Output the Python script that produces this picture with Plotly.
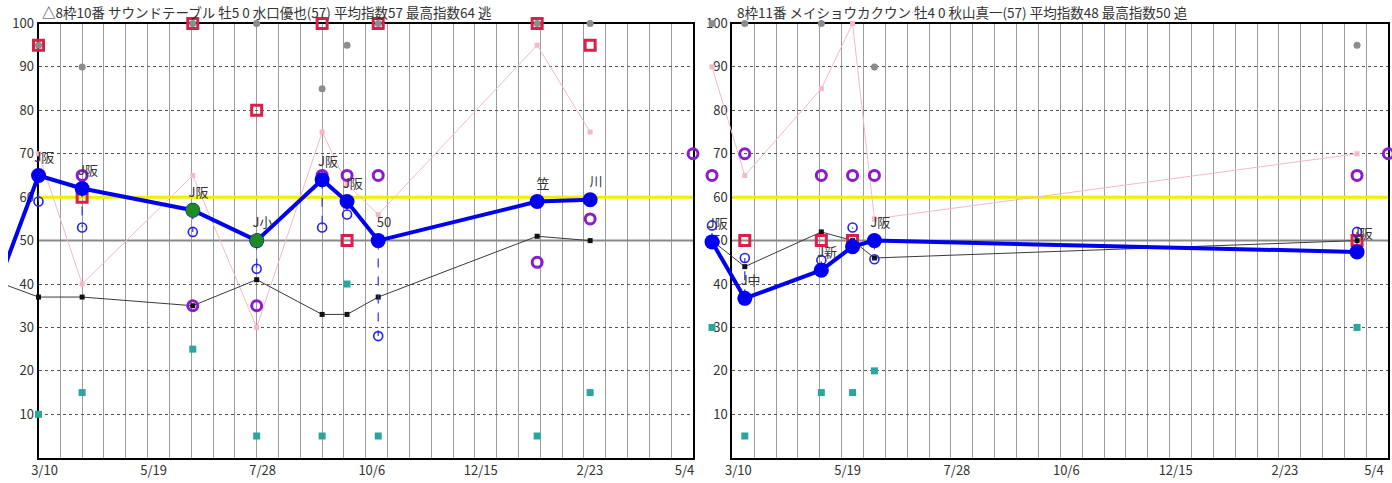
import pandas as pd
import plotly.graph_objects as go

# ---------------- data ----------------
TICK_DATES = ["2022-03-10", "2022-05-19", "2022-07-28", "2022-10-06",
              "2022-12-15", "2023-02-23", "2023-05-04"]
TICK_TEXT = ["3/10", "5/19", "7/28", "10/6", "12/15", "2/23", "5/4"]
Y_TICKS = list(range(10, 101, 10))
REF_LINE = 50
BASE_LINE = 60
CURRENT_DATE = "2023-05-04"

# left horse
L_TITLE = "△8枠10番 サウンドテーブル 牡5 0 水口優也(57) 平均指数57 最高指数64 逃"
L_DATES = ["2022-02-08", "2022-03-10", "2022-04-07", "2022-06-17", "2022-07-28",
           "2022-09-08", "2022-09-24", "2022-10-14", "2023-01-24", "2023-02-27"]
L_INDEX = [36, 65, 62, 57, 50, 64, 59, 50, 59, 59.4]
L_LABELS = ["", "J阪", "J阪", "J阪", "J小", "J阪", "J阪", "50", "笠", "川"]
L_GREEN = [None, None, None, 57, 50, None, None, None, None, None]
L_SUB = [None, 59, 53, 52, 43.5, 53, 56, 28, None, None]
L_BLACK = [41, 37, 37, 35, 41, 33, 33, 37, 51, 50]
L_PINK = [None, 70, 40, 65, 30, 75, 63, 56, 95, 75]
L_RED = [None, 95, 60, 100, 80, 100, 50, 100, 100, 95]
L_GRAY = [None, 95, 90, 100, 100, 85, 95, 100, 100, 100]
L_PURPLE = [None, None, 65, 35, 35, 65, 65, 65, 45, 55]
L_TEAL = [None, 10, 15, 25, 5, 5, 40, 5, 5, 15]
L_CURRENT = 70

# right horse
R_TITLE = "8枠11番 メイショウカクウン 牡4 0 秋山真一(57) 平均指数48 最高指数50 追"
R_DATES = ["2022-02-25", "2022-03-18", "2022-05-06", "2022-05-26", "2022-06-09", "2023-04-14"]
R_INDEX = [49.7, 36.7, 43.2, 48.6, 50, 47.4]
R_LABELS = ["J阪", "J中", "J新", "", "J阪", "J阪"]
R_GREEN = [None, None, None, None, None, None]
R_SUB = [53.5, 46, 45.5, 53, 45.7, 52]
R_BLACK = [50, 44, 52, 50, 46, 50]
R_PINK = [90, 65, 85, 100, 55, 70]
R_RED = [None, 50, 50, 50, None, 50]
R_GRAY = [100, 100, 100, None, 90, 95]
R_PURPLE = [65, 70, 65, 65, 65, 65]
R_TEAL = [30, 5, 15, 15, 20, 30]
R_CURRENT = 70

# ---------------- layout geometry (pixels in the 1392x483 page) ----------------
W, H = 1392, 483
Y_TOP, Y_BOT = 23.5, 457.7
START, END = pd.Timestamp(TICK_DATES[0]), pd.Timestamp(TICK_DATES[-1])
FONT = "Noto Sans CJK JP"
TXT = "#333333"
NBSP = "\u00a0"


def px(x):
    return x / W


def py(y):
    return 1 - y / H


panels = [
    dict(title=L_TITLE, dates=L_DATES, index=L_INDEX, labels=L_LABELS, green=L_GREEN,
         sub=L_SUB, black=L_BLACK, pink=L_PINK, red=L_RED, gray=L_GRAY,
         purple=L_PURPLE, teal=L_TEAL, current=L_CURRENT,
         x0=38.5, x1=693.0, dx0=8.0, title_x=40, last_pad=10,
         mx="x", my="y", dx="x2", dy="y3"),
    dict(title=R_TITLE, dates=R_DATES, index=R_INDEX, labels=R_LABELS, green=R_GREEN,
         sub=R_SUB, black=R_BLACK, pink=R_PINK, red=R_RED, gray=R_GRAY,
         purple=R_PURPLE, teal=R_TEAL, current=R_CURRENT,
         x0=732.3, x1=1388.3, dx0=700.0, title_x=735, last_pad=14,
         mx="x3", my="y2", dx="x4", dy="y4"),
]


def key(ax):
    return ("xaxis" if ax[0] == "x" else "yaxis") + ax[1:]


fig = go.Figure()
ydom = [py(Y_BOT), py(Y_TOP)]
total_days = (END - START).days

for p in panels:
    mx, my, dx, dy = p["mx"], p["my"], p["dx"], p["dy"]
    ppd = (p["x1"] - p["x0"]) / total_days
    extra = (p["x0"] - p["dx0"]) / ppd
    data_start = (START - pd.Timedelta(days=extra)).round("s").strftime("%Y-%m-%d %H:%M:%S")
    ticktext = TICK_TEXT[:-1] + [TICK_TEXT[-1] + NBSP * p["last_pad"]]

    fig.update_layout(**{
        key(mx): dict(domain=[px(p["x0"]), px(p["x1"])], anchor=my, type="date",
                      range=[TICK_DATES[0], TICK_DATES[-1]], tickmode="array",
                      tickvals=TICK_DATES, ticktext=ticktext, ticks="", ticklabelshift=6,
                      ticklabeloverflow="allow",
                      tickfont=dict(family=FONT, size=13, color=TXT), automargin=False,
                      showline=True, mirror=True, linecolor="black", linewidth=2,
                      showgrid=True, gridcolor="#9c9c9c", gridwidth=1,
                      minor=dict(dtick=14 * 86400000, tick0=TICK_DATES[0], showgrid=True,
                                 gridcolor="#9c9c9c", gridwidth=1, ticks=""),
                      zeroline=False),
        key(my): dict(domain=ydom, anchor=mx, range=[0, 100], tickmode="array",
                      tickvals=Y_TICKS, ticks="", showgrid=True, gridcolor="#555555",
                      griddash="dot", gridwidth=1, zeroline=False, automargin=False,
                      showline=True, mirror=True, linecolor="black", linewidth=2,
                      tickfont=dict(family=FONT, size=13, color=TXT)),
        key(dx): dict(domain=[px(p["dx0"]), px(p["x1"])], anchor=dy, type="date",
                      range=[data_start, TICK_DATES[-1]], visible=False, showgrid=False,
                      automargin=False),
        key(dy): dict(domain=ydom, anchor=dx, range=[0, 100], visible=False,
                      showgrid=False, zeroline=False, automargin=False),
    })

    # reference lines drawn on the grid subplot (below the data subplot)
    span = [TICK_DATES[0], TICK_DATES[-1]]
    fig.add_trace(go.Scatter(x=span, y=[REF_LINE] * 2, mode="lines", xaxis=mx, yaxis=my,
                             line=dict(color="#8a8a8a", width=2), showlegend=False,
                             hoverinfo="skip"))
    fig.add_trace(go.Scatter(x=span, y=[BASE_LINE] * 2, mode="lines", xaxis=mx, yaxis=my,
                             line=dict(color="#f2ee00", width=3), showlegend=False,
                             hoverinfo="skip"))

    d = p["dates"]
    common = dict(xaxis=dx, yaxis=dy, showlegend=False, cliponaxis=False, hoverinfo="x+y")

    fig.add_trace(go.Scatter(x=d, y=p["pink"], mode="lines+markers", connectgaps=True,
                             line=dict(color="#f4b9c6", width=1),
                             marker=dict(symbol="square", size=5, color="#f4b9c6"), **common))
    fig.add_trace(go.Scatter(x=d, y=p["black"], mode="lines+markers", connectgaps=True,
                             line=dict(color="#3a3a3a", width=1),
                             marker=dict(symbol="square", size=5, color="#111111"), **common))
    fig.add_trace(go.Scatter(x=d, y=p["teal"], mode="markers",
                             marker=dict(symbol="square", size=7, color="#2aa69c"), **common))
    fig.add_trace(go.Scatter(x=d, y=p["gray"], mode="markers",
                             marker=dict(symbol="circle", size=7, color="#8c8c8c"), **common))
    fig.add_trace(go.Scatter(x=d, y=p["red"], mode="markers",
                             marker=dict(symbol="square-open", size=10, color="#d8204a",
                                         line=dict(width=3, color="#d8204a")), **common))
    fig.add_trace(go.Scatter(x=d, y=p["purple"], mode="markers",
                             marker=dict(symbol="circle-open", size=10, color="#8a1ccc",
                                         line=dict(width=3, color="#8a1ccc")), **common))
    fig.add_trace(go.Scatter(x=[CURRENT_DATE], y=[p["current"]], mode="markers",
                             marker=dict(symbol="circle-open", size=10, color="#8a1ccc",
                                         line=dict(width=3, color="#8a1ccc")), **common))

    # connectors from main index to sub index
    cx, cy = [], []
    for dt, a, b in zip(d, p["index"], p["sub"]):
        if a is not None and b is not None:
            cx += [dt, dt, None]
            cy += [a, b, None]
    fig.add_trace(go.Scatter(x=cx, y=cy, mode="lines",
                             line=dict(color="#3030e8", width=1.2, dash="dash"), **common))
    fig.add_trace(go.Scatter(x=d, y=p["sub"], mode="markers",
                             marker=dict(symbol="circle-open", size=9, color="#2424ee",
                                         line=dict(width=1.6, color="#2424ee")), **common))

    fig.add_trace(go.Scatter(x=d, y=p["index"], mode="lines+markers+text",
                             text=[NBSP * 4 + t if t else t for t in p["labels"]],
                             textposition="top center",
                             textfont=dict(family=FONT, size=13, color=TXT),
                             line=dict(color="#0000f0", width=4),
                             marker=dict(symbol="circle", size=15, color="#0000f0"), **common))
    fig.add_trace(go.Scatter(x=d, y=p["green"], mode="markers",
                             marker=dict(symbol="circle", size=14, color="#1f8a1f"), **common))

    fig.add_annotation(text=p["title"], xref="paper", yref="paper",
                       x=px(p["title_x"]), y=py(12), xanchor="left", yanchor="middle",
                       showarrow=False, font=dict(family=FONT, size=13.5, color=TXT))

fig.update_layout(width=W, height=H, margin=dict(l=0, r=0, t=0, b=0),
                  paper_bgcolor="white", plot_bgcolor="rgba(0,0,0,0)", showlegend=False)

fig.write_html("out.html", config={"displayModeBar": False},
               post_script="document.body.style.margin='0';")
